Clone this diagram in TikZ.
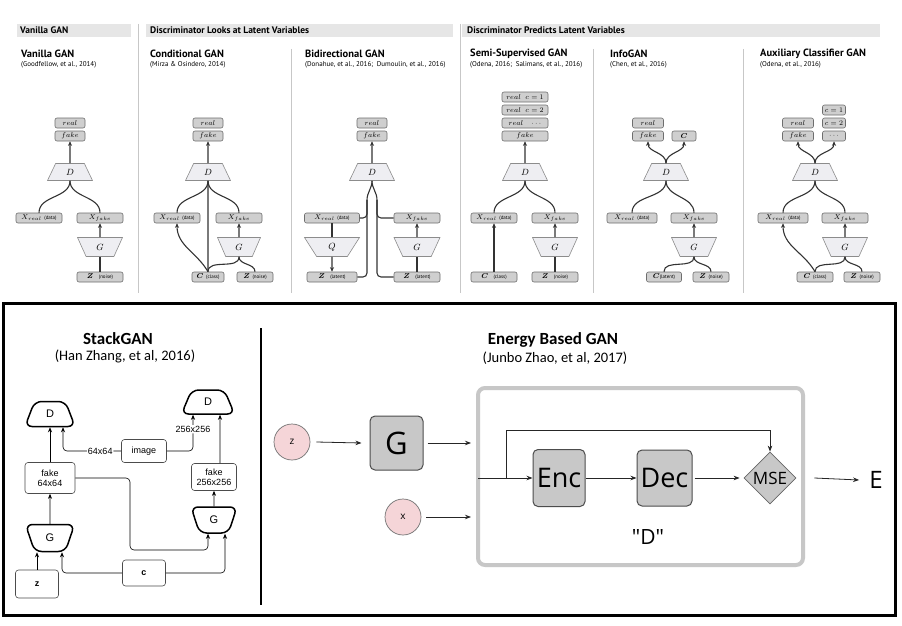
\RequirePackage{fix-cm}
\documentclass[tikz,border=0pt]{standalone}
\usepackage{bm}
\usepackage{fontspec}
\newfontfamily\ptsans{PT Sans}
\newfontfamily\carlito{Carlito}
\newfontfamily\osans{Open Sans}
\newfontfamily\arial{Liberation Sans}
\usetikzlibrary{shapes.geometric,arrows.meta,positioning}

\definecolor{hdrgray}{HTML}{E6E6E6}
\definecolor{tagfill}{HTML}{CFCFCF}
\definecolor{tagline}{HTML}{6E6E6E}
\definecolor{trapfill}{HTML}{EEEEF2}
\definecolor{pinkz}{HTML}{F5D5D8}
\definecolor{boxgray}{HTML}{C8C8C8}

\newcommand{\aside}[1]{{\ptsans\fontsize{5}{5}\selectfont #1}}

\tikzset{
  tag/.style={draw=tagline, fill=tagfill, rounded corners=2pt, line width=0.6pt, inner sep=0pt,
    minimum height=10pt, minimum width=#1, font=\fontsize{7}{8}\selectfont},
  tag/.default=30pt,
  disc/.style={trapezium, trapezium stretches=true, trapezium angle=70, draw=black!45, fill=trapfill,
    line width=0.6pt, minimum width=45pt, minimum height=17pt, inner sep=0pt, font=\fontsize{9}{9}\selectfont},
  gen/.style={disc, trapezium angle=110, minimum height=19pt},
  flow/.style={draw=black!80, line width=1.1pt},
  arr/.style={flow, -{Stealth[length=4.5pt,width=4pt]}},
  sep/.style={draw=black!22, line width=0.7pt},
  hdr/.style={anchor=west, inner sep=0pt, font=\ptsans\bfseries\fontsize{9.5}{10}\selectfont},
  ttl/.style={anchor=west, inner sep=0pt, font=\ptsans\bfseries\fontsize{10.5}{11}\selectfont},
  ref/.style={anchor=west, inner sep=0pt, font=\ptsans\fontsize{7}{8}\selectfont},
  % StackGAN
  sdisc/.style={trapezium, trapezium stretches=true, trapezium angle=72, draw, line width=1.5pt,
    rounded corners=7pt, fill=white, minimum width=50pt, minimum height=25pt, inner sep=0pt,
    font=\arial\fontsize{11}{11}\selectfont},
  sgen/.style={sdisc, trapezium angle=108, minimum width=49pt, minimum height=27pt},
  sbox/.style={draw=black!70, rounded corners=3pt, line width=0.6pt, align=center, inner sep=1pt,
    font=\arial\fontsize{9}{10}\selectfont},
  sarr/.style={draw=black, line width=0.6pt, rounded corners=4pt, -{Stealth[length=5pt,width=4pt]}},
  % EBGAN
  ebox/.style={draw=black!70, fill=boxgray, rounded corners=5pt, line width=1pt, inner sep=0pt},
  ecirc/.style={circle, draw=black!55, fill=pinkz, minimum size=36pt, inner sep=0pt, line width=0.7pt,
    font=\osans\fontsize{10}{10}\selectfont},
  earr/.style={draw=black!85, line width=0.8pt, -{Stealth[length=6pt,width=4.5pt]}},
  big/.style={inner sep=0pt, font=\carlito\bfseries\fontsize{17}{17}\selectfont},
  cite/.style={inner sep=0pt, font=\carlito\fontsize{14.5}{15}\selectfont},
}

\begin{document}
\begin{tikzpicture}[x=1pt,y=-1pt]
\useasboundingbox (0,0) rectangle (902,626);
\fill[white] (0,0) rectangle (902,626);

% headers and separators
\fill[hdrgray] (17,24) rectangle (131,37);
\fill[hdrgray] (146,24) rectangle (453,37);
\fill[hdrgray] (462,24) rectangle (880,37);
\node[hdr] (h1) at (20,30.5) {Vanilla GAN};
\node[hdr] (h2) at (150,30.5) {Discriminator Looks at Latent Variables};
\node[hdr] (h3) at (467,30.5) {Discriminator Predicts Latent Variables};
\draw[sep] (138,24) -- (138,293);
\draw[sep] (291,49) -- (291,293);
\draw[sep] (460,24) -- (460,293);
\draw[sep] (593,49) -- (593,293);
\draw[sep] (743,49) -- (743,293);

\node[ttl] (t1) at (21,54) {Vanilla GAN};
\node[ref] (r1) at (21,65) {(Goodfellow, et al., 2014)};
\node[ttl] (t2) at (150,54) {Conditional GAN};
\node[ref] (r2) at (150,65) {(Mirza \& Osindero, 2014)};
\node[ttl] (t3) at (305,54) {Bidirectional GAN};
\node[ref] (r3) at (305,65) {(Donahue, et al., 2016;\ \ Dumoulin, et al., 2016)};
\node[ttl] (t4) at (470,54) {Semi-Supervised GAN};
\node[ref] (r4) at (470,65) {(Odena, 2016;\ \ Salimans, et al., 2016)};
\node[ttl] (t5) at (610,54) {InfoGAN};
\node[ref] (r5) at (610,65) {(Chen, et al., 2016)};
\node[ttl] (t6) at (760,54) {Auxiliary Classifier GAN};
\node[ref] (r6) at (760,65) {(Odena, et al., 2016)};

% vanilla
\node[tag] (vReal) at (70,123) {$real$};
\node[tag] (vFake) at (70,136) {$fake$};
\node[disc] (vD) at (70,172) {$D$};
\node[tag=46pt] (vXr) at (39,218) {$X_{real}$ \aside{(data)}};
\node[tag=46pt] (vXf) at (100,218) {$X_{fake}$};
\node[gen] (vG) at (100,247) {$G$};
\node[tag=46pt] (vZ) at (100,277) {$\bm{Z}$ \ \aside{(noise)}};
\draw[arr] (vD) -- (vFake);
\draw[flow] (vXr.north) to[out=90,in=-90] (vD.south);
\draw[flow] (vXf.north) to[out=90,in=-90] (vD.south);
\draw[arr] (vG) -- (vXf);
\draw[flow] (vZ) -- (vG);

% conditional
\node[tag] (cReal) at (208,123) {$real$};
\node[tag] (cFake) at (208,136) {$fake$};
\node[disc] (cD) at (208,172) {$D$};
\node[tag=46pt] (cXr) at (177,218) {$X_{real}$ \aside{(data)}};
\node[tag=46pt] (cXf) at (239,218) {$X_{fake}$};
\node[gen, minimum width=43pt] (cG) at (239,247) {$G$};
\node[tag=32pt] (cC) at (208,277) {$\bm{C}$ \aside{(class)}};
\node[tag=36pt] (cZ) at (255,277) {$\bm{Z}$ \aside{(noise)}};
\draw[arr] (cD) -- (cFake);
\draw[flow] (cXr.north) to[out=90,in=-90] (cD.south);
\draw[flow] (cXf.north) to[out=90,in=-90] (cD.south);
\draw[flow] (cC.north) -- (cD.south);
\draw[arr] (cC.north) to[out=120,in=-90] (cXr.south);
\draw[flow] (cC.north) to[out=90,in=-90] (cG.south);
\draw[flow] (cZ.north) to[out=90,in=-90] (cG.south);
\draw[arr] (cG) -- (cXf);

% bidirectional
\node[tag] (bReal) at (372,123) {$real$};
\node[tag] (bFake) at (372,136) {$fake$};
\node[disc] (bD) at (372,172) {$D$};
\node[tag=55pt] (bXr) at (332,218) {$X_{real}$ \aside{(data)}};
\node[gen, minimum width=55pt] (bQ) at (332,247) {$Q$};
\node[tag=50pt] (bZl) at (332,277) {$\bm{Z}$ \ \aside{(latent)}};
\node[tag=46pt] (bXf) at (417,218) {$X_{fake}$};
\node[gen, minimum width=46pt] (bG) at (417,247) {$G$};
\node[tag=46pt] (bZr) at (417,277) {$\bm{Z}$ \ \aside{(latent)}};
\coordinate (bL) at (367,200);
\coordinate (bR) at (377,200);
\draw[arr] (bD) -- (bFake);
\draw[flow] (bXr) -- (bQ);
\draw[arr] (bQ) -- (bZl);
\draw[flow] (bZr) -- (bG);
\draw[arr] (bG) -- (bXf);
\draw[flow] (bD.south) to[out=-90,in=90] (bL);
\draw[flow] (bD.south) to[out=-90,in=90] (bR);
\draw[flow,rounded corners=4pt] (bL) |- (bXr.east);
\draw[flow,rounded corners=4pt] (bL) |- (bZl.east);
\draw[flow,rounded corners=4pt] (bR) |- (bXf.west);
\draw[flow,rounded corners=4pt] (bR) |- (bZr.west);

% semi-supervised
\node[tag=46pt] (sR1) at (525,97) {$real\;\; c=1$};
\node[tag=46pt] (sR2) at (525,110) {$real\;\; c=2$};
\node[tag=46pt] (sR3) at (525,123) {$real\;\;\; \cdots$};
\node[tag=46pt] (sFake) at (525,136) {$fake$};
\node[disc] (sD) at (525,172) {$D$};
\node[tag=46pt] (sXr) at (494,218) {$X_{real}$ \aside{(data)}};
\node[tag=46pt] (sXf) at (555,218) {$X_{fake}$};
\node[gen] (sG) at (555,247) {$G$};
\node[tag=46pt] (sC) at (494,277) {$\bm{C}$ \ \aside{(class)}};
\node[tag=46pt] (sZ) at (555,277) {$\bm{Z}$ \ \aside{(noise)}};
\draw[arr] (sD) -- (sFake);
\draw[flow] (sXr.north) to[out=90,in=-90] (sD.south);
\draw[flow] (sXf.north) to[out=90,in=-90] (sD.south);
\draw[arr] (sC) -- (sXr);
\draw[flow] (sZ) -- (sG);
\draw[arr] (sG) -- (sXf);

% infogan
\node[tag=31pt] (iReal) at (648,123) {$real$};
\node[tag=31pt] (iFake) at (648,136) {$fake$};
\node[tag=24pt] (iC) at (684,136) {$\bm{C}$};
\node[disc] (iD) at (666,172) {$D$};
\node[tag=50pt] (iXr) at (632,218) {$X_{real}$ \aside{(data)}};
\node[tag=46pt] (iXf) at (694,218) {$X_{fake}$};
\node[gen] (iG) at (694,247) {$G$};
\node[tag=35pt] (iCl) at (664,277) {$\bm{C}$\aside{(latent)}};
\node[tag=36pt] (iZ) at (711,277) {$\bm{Z}$ \aside{(noise)}};
\draw[arr] (iD.north) to[out=90,in=-90] (iFake.south);
\draw[arr] (iD.north) to[out=90,in=-90] (iC.south);
\draw[flow] (iXr.north) to[out=90,in=-90] (iD.south);
\draw[flow] (iXf.north) to[out=90,in=-90] (iD.south);
\draw[flow] (iCl.north) to[out=90,in=-90] (iG.south);
\draw[flow] (iZ.north) to[out=90,in=-90] (iG.south);
\draw[arr] (iG) -- (iXf);

% auxiliary classifier
\node[tag=31pt] (aReal) at (798,123) {$real$};
\node[tag=31pt] (aFake) at (798,136) {$fake$};
\node[tag=23pt] (aC1) at (834,110) {$c=1$};
\node[tag=23pt] (aC2) at (834,123) {$c=2$};
\node[tag=23pt] (aC3) at (834,136) {$\cdots$};
\node[disc] (aD) at (815,172) {$D$};
\node[tag=50pt] (aXr) at (783,218) {$X_{real}$ \aside{(data)}};
\node[tag=46pt] (aXf) at (845,218) {$X_{fake}$};
\node[gen] (aG) at (845,247) {$G$};
\node[tag=36pt] (aC) at (815,277) {$\bm{C}$ \aside{(class)}};
\node[tag=36pt] (aZ) at (862,277) {$\bm{Z}$ \aside{(noise)}};
\draw[arr] (aD.north) to[out=90,in=-90] (aFake.south);
\draw[arr] (aD.north) to[out=90,in=-90] (aC3.south);
\draw[flow] (aXr.north) to[out=90,in=-90] (aD.south);
\draw[flow] (aXf.north) to[out=90,in=-90] (aD.south);
\draw[arr] (aC.north) to[out=120,in=-90] (aXr.south);
\draw[flow] (aC.north) to[out=90,in=-90] (aG.south);
\draw[flow] (aZ.north) to[out=90,in=-90] (aG.south);
\draw[arr] (aG) -- (aXf);

% lower frame
\draw[line width=3pt] (3,303) rectangle (895,615);
\draw[line width=2.5pt] (261,328) -- (261,605);

% stackgan
\node[big] (stTitle) at (118,339) {StackGAN};
\node[cite] (stSub) at (125,356) {(Han Zhang, et al, 2016)};
\node[sdisc] (stD1) at (50,414) {D};
\node[sdisc, minimum width=53pt, minimum height=24pt] (stD2) at (208,402) {D};
\node[sbox, minimum width=45pt, minimum height=23pt] (stImg) at (144,451) {image};
\node[sbox, minimum width=50pt, minimum height=31pt] (stF1) at (50,478) {fake\\64x64};
\node[sbox, minimum width=45pt, minimum height=27pt] (stF2) at (214,477) {fake\\256x256};
\node[sgen] (stG1) at (50,538) {G};
\node[sgen, minimum width=46pt, minimum height=26pt] (stG2) at (214,520) {G};
\node[sbox, minimum width=43pt, minimum height=28pt, font=\arial\bfseries\fontsize{9}{10}\selectfont] (stZ) at (37,584) {z};
\node[sbox, minimum width=43pt, minimum height=26pt, font=\arial\bfseries\fontsize{9}{10}\selectfont] (stC) at (144,573) {c};
\coordinate (stBend) at (130,550);
\draw[sarr] (stF1) -- (stD1);
\draw[sarr] (stImg.west) -| node[pos=0.18, fill=white, inner sep=1pt, font=\arial\fontsize{9}{10}\selectfont] (lab64) {64x64} ([xshift=13pt]stD1.south);
\draw[sarr] (stImg.east) -| node[pos=0.8, fill=white, inner sep=1pt, font=\arial\fontsize{9}{10}\selectfont] (lab256) {256x256} ([xshift=-15pt]stD2.south);
\draw[sarr] ([xshift=6pt]stF2.north) -- ([xshift=12pt]stD2.south);
\draw[sarr] (stG1) -- (stF1);
\draw[sarr] (stZ.north) -- (stZ.north |- stG1.south);
\draw[sarr] (stC.west) -| ([xshift=12pt]stG1.south);
\draw[sarr] (stC.east) -| ([xshift=11pt]stG2.south);
\draw[sarr] (stF1.east) -| (stBend) -| ([xshift=-6pt]stG2.south);
\draw[sarr] (stG2) -- (stF2);

% energy based gan
\node[big] (ebTitle) at (553,340) {Energy Based GAN};
\node[cite] (ebSub) at (555,358) {(Junbo Zhao, et al, 2017)};
\node[draw=black!22, line width=4pt, rounded corners=7pt, minimum width=325pt, minimum height=177pt] (Dbox) at (640.5,476.5) {};
\node[font=\osans\fontsize{21}{21}\selectfont] (dLab) at (648,537) {"D"};
\node[ecirc] (zc) at (292,442) {z};
\node[ecirc] (xc) at (403,517) {x};
\node[ebox, minimum width=53pt, minimum height=54pt, font=\osans\fontsize{31}{31}\selectfont] (Gb) at (396.5,443) {G};
\node[ebox, minimum width=52pt, minimum height=57pt, font=\osans\fontsize{27}{27}\selectfont] (Enc) at (559,478) {Enc};
\node[ebox, minimum width=55pt, minimum height=56pt, font=\osans\fontsize{27}{27}\selectfont] (Dec) at (664.5,478) {Dec};
\node[diamond, draw=black!60, fill=boxgray, line width=0.8pt, minimum width=52pt, minimum height=52pt, inner sep=0pt, font=\osans\fontsize{17}{17}\selectfont] (MSE) at (770,478) {MSE};
\node[inner sep=0pt, font=\osans\fontsize{24}{24}\selectfont] (en) at (876,480) {E};
\coordinate (tap) at (506,478);
\draw[earr] ([xshift=6pt]zc.east) -- ([xshift=-8pt]Gb.west);
\draw[earr] ([xshift=4pt]Gb.east) -- ([xshift=-5pt]Dbox.west |- Gb.east);
\draw[earr] ([xshift=5pt]xc.east) -- ([xshift=-5pt]Dbox.west |- xc.east);
\draw[earr] ([xshift=2pt]Dbox.west |- Enc.west) -- (Enc.west);
\draw[earr] (tap) |- ([yshift=21pt]MSE.north) -- (MSE.north);
\draw[earr] (Enc.east) -- (Dec.west);
\draw[earr] ([xshift=2pt]Dec.east) -- ([xshift=-4pt]MSE.west);
\draw[earr] ([xshift=18pt]MSE.east) -- ([xshift=-10pt]en.west);
\end{tikzpicture}
\end{document}
